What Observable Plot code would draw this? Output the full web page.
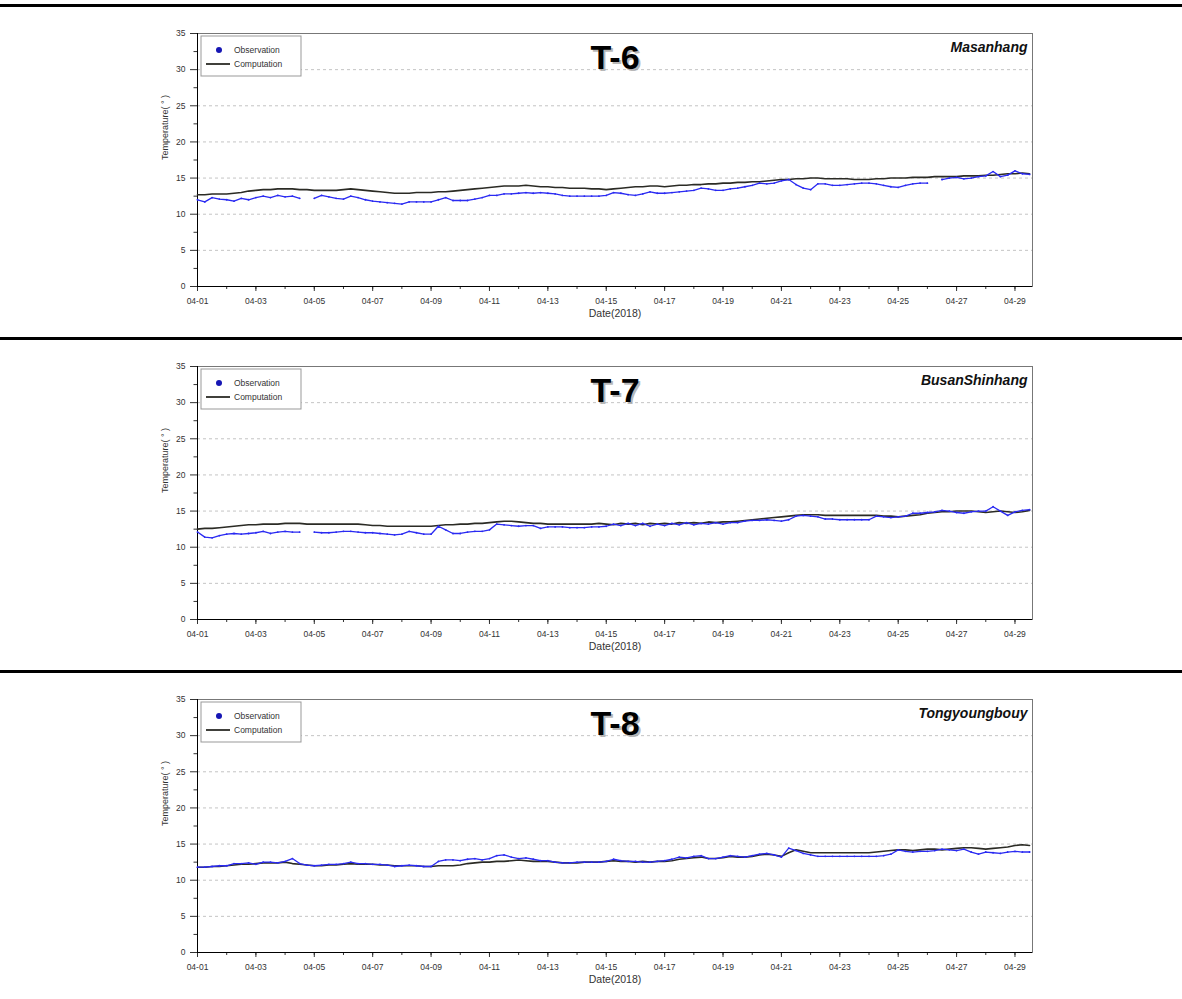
<!DOCTYPE html>
<html>
<head>
<meta charset="utf-8">
<script src="https://cdn.jsdelivr.net/npm/d3@7"></script>
<script src="https://cdn.jsdelivr.net/npm/@observablehq/plot@0.6"></script>
<style>
  body { margin: 0; background: #fff; width: 1182px; }
  .panel { position: relative; width: 1182px; height: 333px; }
  .sep { position: absolute; left: 0; top: 4px; width: 1182px; height: 3px; background: #000; }
  svg { font-family: "Liberation Sans", Arial, sans-serif; }
</style>
</head>
<body>
<div id="root"></div>
<script>
// ---------------- DATA ----------------
const startDate = "2018-04-01T00:00Z";
const endDate = "2018-04-29T14:24Z";
const stepHours = 6;

const panelTitles = ["T-6", "T-7", "T-8"];
const stationNames = ["Masanhang", "BusanShinhang", "Tongyoungbouy"];
const seriesNames = ["Observation", "Computation"];
const xLabel = "Date(2018)";
const yLabel = "Temperature( \u00b0 )";

const xTickLabels = ["04-01","04-03","04-05","04-07","04-09","04-11","04-13","04-15",
                     "04-17","04-19","04-21","04-23","04-25","04-27","04-29"];
const yTicks = [0, 5, 10, 15, 20, 25, 30, 35];
const yMinorTicks = [2.5, 7.5, 12.5, 17.5, 22.5, 27.5, 32.5];
const gridValues = [5, 10, 15, 20, 25, 30];

// 6-hourly values from 04-01 00:00
const t6Observation = [12.0,11.7,12.3,12.1, 12.0,11.8,12.2,12.0, 12.3,12.5,12.3,12.6, 12.4,12.5,12.2,null,
  12.2,12.6,12.4,12.2, 12.1,12.5,12.3,12.0, 11.8,11.7,11.6,11.5, 11.4,11.7,11.7,11.7,
  11.7,12.0,12.3,11.9, 11.9,11.9,12.1,12.3, 12.6,12.6,12.8,12.8, 12.9,13.0,12.9,13.0,
  12.9,12.8,12.6,12.5, 12.5,12.5,12.5,12.5, 12.6,13.0,12.9,12.7, 12.6,12.8,13.1,12.9,
  12.9,13.0,13.1,13.2, 13.3,13.6,13.5,13.3, 13.3,13.5,13.6,13.8, 14.0,14.3,14.2,14.3,
  14.6,14.8,14.1,13.6, 13.4,14.2,14.2,14.0, 14.0,14.1,14.2,14.3, 14.3,14.2,14.0,13.8,
  13.7,14.0,14.2,14.3, 14.3,null,14.8,15.0, 15.1,14.9,15.0,15.2, 15.3,15.9,15.2,15.4,
  16.0,15.6,15.5];
const t6Computation = [12.7,12.7,12.8,12.8, 12.8,12.9,13.0,13.2, 13.3,13.4,13.4,13.5, 13.5,13.5,13.4,13.4,
  13.3,13.3,13.3,13.3, 13.4,13.5,13.4,13.3, 13.2,13.1,13.0,12.9, 12.9,12.9,13.0,13.0,
  13.0,13.1,13.1,13.2, 13.3,13.4,13.5,13.6, 13.7,13.8,13.9,13.9, 13.9,14.0,13.9,13.8,
  13.8,13.7,13.7,13.6, 13.6,13.6,13.5,13.5, 13.4,13.5,13.6,13.7, 13.8,13.8,13.9,13.9,
  13.8,13.9,14.0,14.0, 14.1,14.1,14.2,14.2, 14.3,14.3,14.4,14.4, 14.5,14.5,14.6,14.7,
  14.8,14.8,14.9,14.9, 15.0,15.0,14.9,14.9, 14.9,14.9,14.8,14.8, 14.8,14.9,14.9,15.0,
  15.0,15.0,15.1,15.1, 15.1,15.2,15.2,15.2, 15.2,15.3,15.3,15.3, 15.4,15.4,15.5,15.6,
  15.6,15.7,15.6];

const t7Observation = [12.1,11.4,11.3,11.6, 11.8,11.9,11.8,11.9, 12.0,12.2,11.9,12.1, 12.2,12.1,12.1,null,
  12.1,12.0,12.0,12.1, 12.2,12.2,12.1,12.0, 12.0,11.9,11.8,11.7, 11.8,12.2,12.0,11.8,
  11.8,12.9,12.4,11.9, 11.9,12.1,12.2,12.2, 12.4,13.2,13.1,13.0, 12.9,13.0,13.0,12.6,
  12.8,12.8,12.8,12.7, 12.7,12.7,12.8,12.8, 12.9,13.2,13.0,13.3, 13.0,13.3,12.9,13.2,
  13.0,13.3,13.1,13.4, 13.1,13.3,13.2,13.4, 13.2,13.4,13.4,13.6, 13.7,13.7,13.8,13.7,
  13.6,13.8,14.3,14.4, 14.3,14.2,13.9,13.9, 13.8,13.8,13.8,13.8, 13.8,14.3,14.2,14.1,
  14.2,14.3,14.7,14.7, 14.8,14.9,15.1,15.0, 14.8,14.7,14.9,15.0, 15.0,15.6,15.0,14.4,
  14.9,15.1,15.2];
const t7Computation = [12.5,12.6,12.6,12.7, 12.8,12.9,13.0,13.1, 13.1,13.2,13.2,13.2, 13.3,13.3,13.3,13.2,
  13.2,13.2,13.2,13.2, 13.2,13.2,13.2,13.1, 13.0,13.0,12.9,12.9, 12.9,12.9,12.9,12.9,
  12.9,13.0,13.1,13.1, 13.2,13.2,13.3,13.3, 13.4,13.5,13.6,13.6, 13.5,13.4,13.3,13.3,
  13.2,13.2,13.2,13.2, 13.2,13.2,13.2,13.3, 13.2,13.1,13.3,13.2, 13.3,13.1,13.3,13.2,
  13.3,13.2,13.4,13.3, 13.4,13.3,13.5,13.4, 13.5,13.5,13.6,13.7, 13.8,13.9,14.0,14.1,
  14.2,14.3,14.4,14.5, 14.5,14.5,14.4,14.4, 14.4,14.4,14.4,14.4, 14.4,14.4,14.3,14.3,
  14.2,14.3,14.4,14.5, 14.7,14.8,14.9,14.9, 15.0,15.0,15.0,14.9, 14.8,14.9,15.0,14.9,
  14.8,14.9,15.1];

const t8Observation = [11.8,11.8,11.9,12.0, 12.0,12.3,12.3,12.4, 12.2,12.5,12.5,12.4, 12.6,13.0,12.3,12.1,
  12.0,12.1,12.2,12.2, 12.3,12.5,12.3,12.3, 12.2,12.2,12.1,11.9, 12.0,12.1,12.0,11.9,
  11.9,12.6,12.8,12.8, 12.7,12.9,13.0,12.8, 13.0,13.4,13.5,13.2, 13.0,13.1,12.9,12.7,
  12.7,12.5,12.4,12.4, 12.5,12.5,12.5,12.5, 12.6,12.9,12.7,12.6, 12.6,12.5,12.5,12.6,
  12.7,12.9,13.2,13.1, 13.3,13.4,13.0,13.0, 13.2,13.4,13.3,13.2, 13.4,13.6,13.7,13.5,
  13.2,14.45,14.1,13.7, 13.5,13.3,13.3,13.3, 13.3,13.3,13.3,13.3, 13.3,13.3,13.4,13.6,
  14.2,14.0,13.9,14.0, 14.0,14.1,14.3,14.2, 14.1,14.3,13.9,13.6, 13.9,13.8,13.7,13.9,
  14.0,13.9,13.9];
const t8Computation = [11.8,11.8,11.9,11.9, 12.0,12.1,12.2,12.2, 12.3,12.4,12.4,12.4, 12.5,12.3,12.2,12.1,
  12.0,12.0,12.1,12.1, 12.2,12.3,12.2,12.2, 12.2,12.1,12.1,12.0, 12.0,12.0,12.0,11.9,
  11.9,12.0,12.0,12.0, 12.1,12.3,12.4,12.5, 12.5,12.6,12.6,12.7, 12.8,12.7,12.6,12.6,
  12.6,12.5,12.4,12.4, 12.4,12.5,12.5,12.5, 12.6,12.7,12.6,12.6, 12.5,12.6,12.5,12.6,
  12.6,12.7,12.9,13.0, 13.1,13.2,13.0,13.0, 13.1,13.3,13.2,13.2, 13.3,13.5,13.6,13.5,
  13.3,13.8,14.2,14.0, 13.8,13.8,13.8,13.8, 13.8,13.8,13.8,13.8, 13.8,13.9,14.0,14.1,
  14.2,14.2,14.1,14.2, 14.3,14.3,14.2,14.3, 14.4,14.5,14.5,14.4, 14.3,14.4,14.5,14.6,
  14.8,14.9,14.8];

const panelObservations = [t6Observation, t7Observation, t8Observation];
const panelComputations = [t6Computation, t7Computation, t8Computation];

// ---------------- STYLE ----------------
const obsColor = "#2a2af2";
const obsLegendColor = "#1616b4";
const compColor = "#2b2b25";

// ---------------- DRAW ----------------
const t0 = new Date(startDate);
const t1 = new Date(endDate);
const toRows = arr => arr.map((v, i) => ({
  date: new Date(+t0 + i * stepHours * 3600e3),
  value: v == null ? NaN : v
}));
const majorDates = xTickLabels.map(s => new Date(`2018-${s}T00:00Z`));
const minorDates = d3.utcDay.range(t0, t1);
const fmt = d3.utcFormat("%m-%d");

const root = document.getElementById("root");

panelTitles.forEach((title, k) => {
  const obsRows = toRows(panelObservations[k]);
  const compRows = toRows(panelComputations[k]);

  const svg = Plot.plot({
    width: 1182,
    height: 333,
    marginLeft: 197,
    marginRight: 150,
    marginTop: 33,
    marginBottom: 47,
    style: { fontFamily: "'Liberation Sans', Arial, sans-serif", fontSize: "8.5px", color: "#333", background: "white" },
    x: { type: "utc", domain: [t0, t1] },
    y: { domain: [0, 35] },
    marks: [
      Plot.gridY(gridValues, { stroke: "#c4c4c4", strokeOpacity: 1, strokeDasharray: "3,3" }),
      Plot.frame({ stroke: "#777" }),
      Plot.axisY(yTicks, { tickSize: 7, tickPadding: 5, label: null, fontSize: 8.5 }),
      Plot.axisY(yMinorTicks, { tickSize: 3.5, tickFormat: () => "", label: null }),
      Plot.axisX(majorDates, { tickSize: 5, tickPadding: 6, tickFormat: fmt, label: null, fontSize: 8.5 }),
      Plot.axisX(minorDates, { tickSize: 3, tickFormat: () => "", label: null }),
      Plot.ruleY([0], { stroke: "#000" }),
      Plot.ruleX([t0], { stroke: "#000" }),
      Plot.line(compRows, { x: "date", y: "value", stroke: compColor, strokeWidth: 1.6 }),
      Plot.line(obsRows, { x: "date", y: "value", stroke: obsColor, strokeWidth: 1.3 }),
      Plot.dot(obsRows, { x: "date", y: "value", r: 0.9, fill: obsColor }),
      Plot.text([title], { text: d => d, frameAnchor: "top", lineAnchor: "middle", dx: 2, dy: 27, fontSize: 34, fontWeight: "bold", fill: "#999", fillOpacity: 0.7 }),
      Plot.text([title], { text: d => d, frameAnchor: "top", lineAnchor: "middle", dy: 25, fontSize: 34, fontWeight: "bold", fill: "#000" }),
      Plot.text([stationNames[k]], { text: d => d, frameAnchor: "top-right", lineAnchor: "middle", dx: -5, dy: 14, fontSize: 14, fontWeight: "bold", fontStyle: "italic", textAnchor: "end", fill: "#111" }),
      Plot.text([yLabel], { text: d => d, frameAnchor: "left", dx: -32, rotate: -90, fontSize: 9, fill: "#333" }),
      Plot.text([xLabel], { text: d => d, frameAnchor: "bottom", lineAnchor: "middle", dy: 27, fontSize: 10.5, fill: "#333" })
    ]
  });

  // legend (top-left inside the frame)
  const g = d3.select(svg).append("g").attr("font-size", 8.5).attr("fill", "#333").attr("text-anchor", "start");
  g.append("rect").attr("x", 201).attr("y", 36).attr("width", 100).attr("height", 40)
    .attr("fill", "white").attr("stroke", "#999").attr("stroke-width", 1);
  g.append("circle").attr("cx", 219).attr("cy", 50).attr("r", 3).attr("fill", obsLegendColor);
  g.append("text").attr("x", 234).attr("y", 53).attr("text-anchor", "start").text(seriesNames[0]);
  g.append("line").attr("x1", 206).attr("x2", 230).attr("y1", 64).attr("y2", 64)
    .attr("stroke", compColor).attr("stroke-width", 1.8);
  g.append("text").attr("x", 234).attr("y", 67).attr("text-anchor", "start").text(seriesNames[1]);

  const div = document.createElement("div");
  div.className = "panel";
  div.appendChild(svg);
  const sep = document.createElement("div");
  sep.className = "sep";
  div.appendChild(sep);
  root.appendChild(div);
});
</script>
</body>
</html>
